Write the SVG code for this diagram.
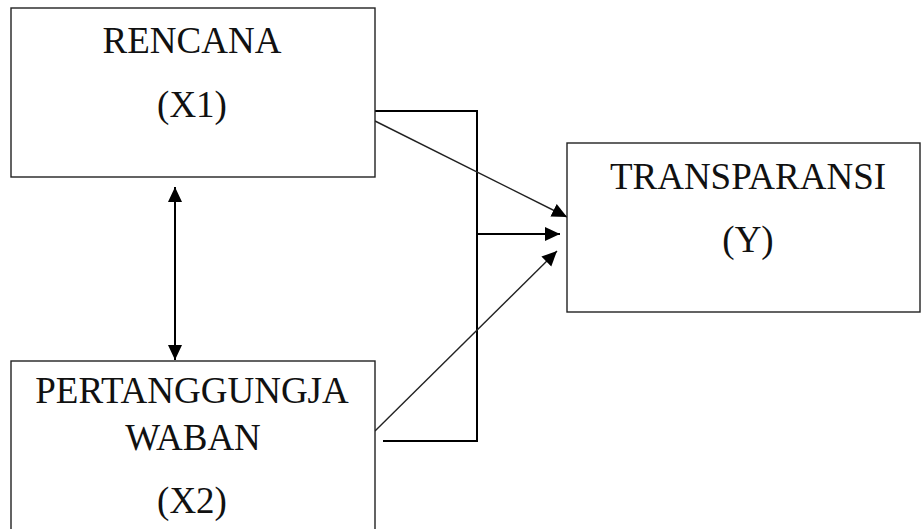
<svg xmlns="http://www.w3.org/2000/svg" width="921" height="529" viewBox="0 0 921 529">
<style>
.box{fill:#fff;stroke:#222;stroke-width:1.4}
.lbl{font-family:'Liberation Serif','DejaVu Serif',serif;font-size:37px;fill:#111;text-anchor:middle}
.ln{fill:none;stroke:#000;stroke-width:2}
.dg{fill:none;stroke:#222;stroke-width:1.4}
</style>
<defs>
<marker id="ah" markerUnits="userSpaceOnUse" markerWidth="16" markerHeight="16" viewBox="0 0 16 16" refX="15" refY="8" orient="auto-start-reverse">
<path d="M0,1 L15,8 L0,15 Z" fill="#000"/>
</marker>
</defs>
<rect width="921" height="529" fill="#fff"/>
<g id="connectors">
<polyline class="ln" points="373,111 477,111 477,441 383,441"/>
<line class="ln" x1="477" y1="234" x2="560" y2="234" marker-end="url(#ah)"/>
<line class="dg" x1="375" y1="121" x2="567" y2="217" marker-end="url(#ah)"/>
<line class="dg" x1="375" y1="431" x2="557" y2="251" marker-end="url(#ah)"/>
<line class="ln" x1="175" y1="187" x2="175" y2="360" marker-start="url(#ah)" marker-end="url(#ah)"/>
</g>
<g id="node-x1">
<rect class="box" x="11" y="8" width="364" height="169"/>
<text class="lbl" x="192" y="53">RENCANA</text>
<text class="lbl" x="192" y="117">(X1)</text>
</g>
<g id="node-x2">
<rect class="box" x="11" y="361" width="364" height="180"/>
<text class="lbl" x="192" y="403">PERTANGGUNGJA</text>
<text class="lbl" x="193" y="450">WABAN</text>
<text class="lbl" x="192" y="513">(X2)</text>
</g>
<g id="node-y">
<rect class="box" x="567" y="143" width="353" height="169"/>
<text class="lbl" x="748" y="189">TRANSPARANSI</text>
<text class="lbl" x="748" y="252">(Y)</text>
</g>
</svg>
